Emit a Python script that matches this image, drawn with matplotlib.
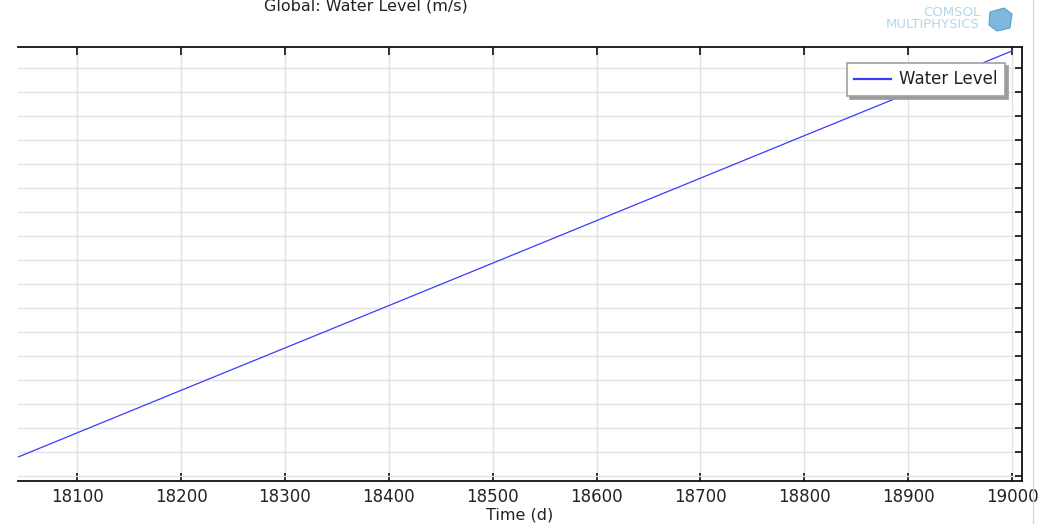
import matplotlib
matplotlib.use("Agg")
import matplotlib.pyplot as plt
from matplotlib.patches import Polygon

# ---- data (y in arbitrary grid units) ----
time_d = [18043, 18200, 18400, 18600, 18800, 19000]
water_level = [0.79, 3.57, 7.10, 10.64, 14.18, 17.71]
x_ticks = [18100, 18200, 18300, 18400, 18500, 18600, 18700, 18800, 18900, 19000]
y_grid = list(range(0, 18))

W, H = 1040, 524
fig = plt.figure(figsize=(W / 100, H / 100), dpi=100)
fig.patch.set_facecolor("white")

left, right, top, bottom = 18, 1022, 47, 481
ax = fig.add_axes([left / W, 1 - bottom / H, (right - left) / W, (bottom - top) / H])

ax.plot(time_d, water_level, color="#3b3bff", lw=0.9, label="Water Level")

ax.set_xlim(18043, 19009.6)
ax.set_ylim(-0.208, 17.875)

ax.set_xticks(x_ticks)
ax.set_xticklabels([str(t) for t in x_ticks], fontsize=12, color="#222222")
ax.set_yticks(y_grid)
ax.set_yticklabels([])

ax.grid(True, color="#e2e2e2", lw=1.0)
ax.set_axisbelow(True)

for s in ["top", "bottom", "right"]:
    ax.spines[s].set_linewidth(1.3)
    ax.spines[s].set_color("#111111")
ax.spines["left"].set_visible(False)

ax.tick_params(axis="x", direction="in", top=True, bottom=True, length=5.5, width=1.2,
               pad=5, color="#111111")
ax.tick_params(axis="y", direction="in", left=False, right=True, labelleft=False,
               length=5, width=1.2, color="#111111")

ax.set_xlabel("Time (d)", fontsize=11.5, color="#222222", labelpad=1)

fig.text(366 / W, 1 - 6 / H, "Global: Water Level (m/s)", ha="center", va="center",
         fontsize=11.5, color="#222222")

leg = ax.legend(loc="upper right", bbox_to_anchor=(1005 / W, 1 - 63 / H),
                bbox_transform=fig.transFigure, borderaxespad=0, fancybox=False,
                shadow={"ox": 2.2, "oy": -2.2, "color": "#9c9c9c", "alpha": 1.0},
                fontsize=12, handlelength=2.2, borderpad=0.45, handletextpad=0.5,
                edgecolor="#a0a0a0", framealpha=1)
leg.get_frame().set_linewidth(1.2)
for h in leg.get_lines():
    h.set_linewidth(1.6)
for t in leg.get_texts():
    t.set_color("#222222")

# COMSOL logo-like watermark
logo_c = "#b3d8ec"
fig.text(980 / W, 1 - 13 / H, "COMSOL", ha="right", va="center", fontsize=9.5,
         color=logo_c)
fig.text(980 / W, 1 - 24 / H, "MULTIPHYSICS", ha="right", va="center", fontsize=9.5,
         color=logo_c)
cube = Polygon([(990 / W, 1 - 12 / H), (1004 / W, 1 - 8 / H), (1012 / W, 1 - 14 / H),
                (1010 / W, 1 - 28 / H), (997 / W, 1 - 31 / H), (989 / W, 1 - 25 / H)],
               closed=True, transform=fig.transFigure, facecolor="#7fb8dc",
               edgecolor="#5e9fca", lw=0.8)
fig.patches.append(cube)

fig.add_artist(plt.Line2D([1033 / W, 1033 / W], [0, 1], transform=fig.transFigure,
                          color="#d8d8d8", lw=1))

fig.savefig("out.png", dpi=100)
